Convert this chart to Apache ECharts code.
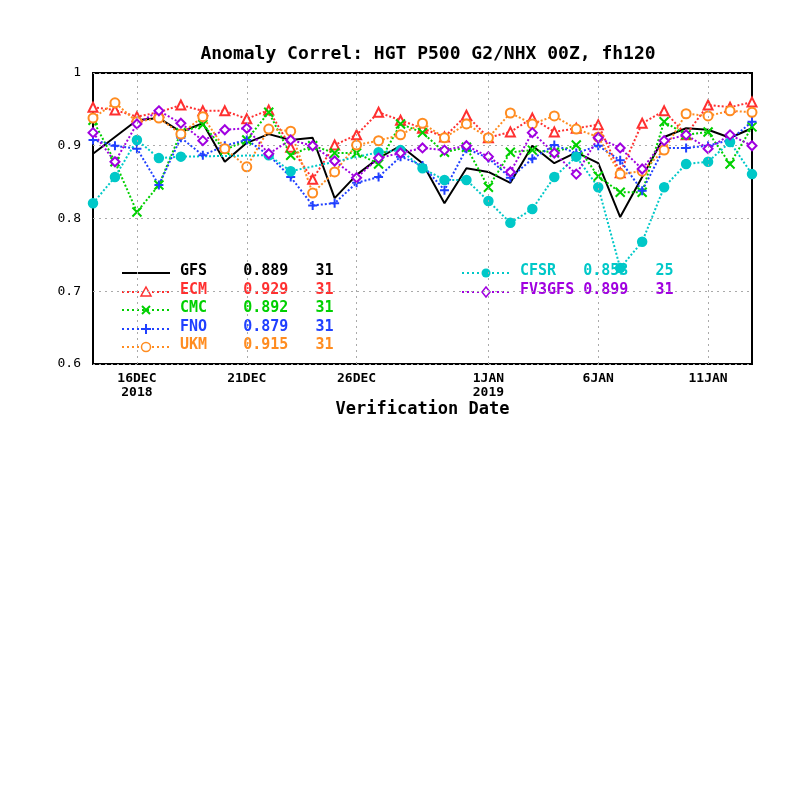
<!DOCTYPE html>
<html>
<head>
<meta charset="utf-8">
<script src="https://cdn.jsdelivr.net/npm/echarts@6/dist/echarts.min.js"></script>
<style>html,body{margin:0;background:#fff}#chart{width:800px;height:800px}</style>
</head>
<body>
<div id="chart"></div>
<script>
// day index 0 = 14 DEC 2018
const days = [0,1,2,3,4,5,6,7,8,9,10,11,12,13,14,15,16,17,18,19,20,21,22,23,24,25,26,27,28,29,30];
const tickDays = [2, 7, 12, 18, 23, 28];
const tickLabels = ['16DEC\n2018', '21DEC', '26DEC', '1JAN\n2019', '6JAN', '11JAN'];

const gfs = [.889,.912,.935,.938,.919,.931,.878,.904,.916,.908,.911,.828,.860,.883,.900,.876,.821,.869,.864,.849,.900,.876,.891,.876,.802,.857,.912,.924,.922,.911,.924];
const ecm = [.953,.949,.940,.946,.956,.948,.948,.937,.949,.898,.854,.901,.915,.946,.935,.924,.912,.942,.911,.919,.938,.919,.924,.929,.863,.931,.948,.915,.956,.953,.960];
const cmc = [.935,.878,.809,.846,.918,.929,.894,.908,.946,.887,.900,.890,.890,.875,.930,.918,.891,.898,.843,.891,.894,.891,.901,.858,.836,.836,.933,.915,.919,.875,.926];
const fno = [.908,.900,.896,.846,.911,.887,.900,.908,.887,.857,.818,.821,.849,.857,.885,.873,.839,.896,.883,.856,.882,.901,.890,.900,.880,.838,.897,.897,.900,.908,.933];
const ukm = [.938,.959,.933,.938,.916,.940,.896,.871,.923,.920,.835,.864,.901,.907,.915,.931,.911,.930,.911,.945,.930,.941,.923,.912,.861,.865,.894,.944,.941,.948,.946];
const cfsr = [.821,.857,.908,.883,.885,null,null,null,.887,.865,null,null,null,.891,.894,.869,.853,.853,.824,.794,.813,.857,.885,.843,.732,.768,.843,.875,.878,.905,.861];
const fv3 = [.918,.878,.930,.948,.931,.907,.922,.924,.889,.908,.900,.879,.856,.883,.890,.897,.894,.900,.885,.864,.918,.890,.861,.911,.897,.868,.907,.915,.896,.915,.900];

const models = [
  {name:'GFS', data:gfs, color:'#000000', sym:'none', type:'solid', score:'0.889', n:'31'},
  {name:'ECM', data:ecm, color:'#ff3030', sym:'emptyTriangle', type:'dotted', score:'0.929', n:'31'},
  {name:'CMC', data:cmc, color:'#00d000', sym:'path://M0,0L10,10M10,0L0,10', type:'dotted', score:'0.892', n:'31'},
  {name:'FNO', data:fno, color:'#2040ff', sym:'path://M5,0L5,10M0,5L10,5', type:'dotted', score:'0.879', n:'31'},
  {name:'UKM', data:ukm, color:'#ff8c20', sym:'emptyCircle', type:'dotted', score:'0.915', n:'31'},
  {name:'CFSR', data:cfsr, color:'#00c8c8', sym:'circle', type:'dotted', score:'0.853', n:'25'},
  {name:'FV3GFS', data:fv3, color:'#a000e0', sym:'emptyDiamond', type:'dotted', score:'0.899', n:'31'}
];

const font = 'DejaVu Sans Mono';
const series = models.map(function (m) {
  const isPath = m.sym.indexOf('path') === 0;
  return {
    name: m.name,
    type: 'line',
    data: m.data.map(function (v, i) { return [days[i], v]; }),
    connectNulls: true,
    symbol: m.sym,
    symbolSize: 9,
    showSymbol: m.sym !== 'none',
    lineStyle: {color: m.color, width: 2, type: m.type},
    itemStyle: isPath ? {color: 'none', borderColor: m.color, borderWidth: 2}
                      : {color: m.color, borderColor: m.color, borderWidth: 1.5},
    animation: false
  };
});
// vertical grid lines at labelled dates
series[0].markLine = {
  silent: true, symbol: 'none', label: {show: false},
  lineStyle: {color: '#aaaaaa', type: [2, 4], width: 1},
  data: tickDays.map(function (d) { return {xAxis: d}; })
};

// legend drawn as graphics
const graphics = [];
function seg(x1, y1, x2, y2, c) {
  graphics.push({type: 'line', shape: {x1: x1, y1: y1, x2: x2, y2: y2}, style: {stroke: c, lineWidth: 2}});
}
function legendRow(m, x, y) {
  graphics.push({type: 'line', shape: {x1: x, y1: y, x2: x + 48, y2: y},
    style: {stroke: m.color, lineWidth: 2, lineDash: m.type === 'solid' ? null : [2, 3]}});
  graphics.push({type: 'text', x: x + 58, y: y - 9,
    style: {text: m.name.padEnd(7) + m.score + '   ' + m.n, fill: m.color,
      font: 'bold 15px ' + font}});
}
legendRow(models[0], 122, 273);
legendRow(models[1], 122, 292);
legendRow(models[2], 122, 310);
legendRow(models[3], 122, 329);
legendRow(models[4], 122, 347);
legendRow(models[5], 462, 273);
legendRow(models[6], 462, 292);
// legend markers
const legendMarks = [
  {m: models[1], x: 146, y: 292}, {m: models[2], x: 146, y: 310}, {m: models[3], x: 146, y: 329},
  {m: models[4], x: 146, y: 347}, {m: models[5], x: 486, y: 273}, {m: models[6], x: 486, y: 292}
];
legendMarks.forEach(function (o) {
  const c = o.m.color, s = o.m.sym;
  if (s === 'emptyTriangle') graphics.push({type: 'polygon', shape: {points: [[o.x, o.y - 5], [o.x + 5, o.y + 4], [o.x - 5, o.y + 4]]}, style: {fill: '#fff', stroke: c, lineWidth: 1.5}});
  if (s === 'emptyCircle') graphics.push({type: 'circle', shape: {cx: o.x, cy: o.y, r: 4.5}, style: {fill: '#fff', stroke: c, lineWidth: 1.5}});
  if (s === 'circle') graphics.push({type: 'circle', shape: {cx: o.x, cy: o.y, r: 4.5}, style: {fill: c}});
  if (s === 'emptyDiamond') graphics.push({type: 'polygon', shape: {points: [[o.x, o.y - 5], [o.x + 4, o.y], [o.x, o.y + 5], [o.x - 4, o.y]]}, style: {fill: '#fff', stroke: c, lineWidth: 1.5}});
  if (s.indexOf('M0,0') > 0) { seg(o.x - 4, o.y - 4, o.x + 4, o.y + 4, c); seg(o.x + 4, o.y - 4, o.x - 4, o.y + 4, c); }
  if (s.indexOf('M5,0') > 0) { seg(o.x, o.y - 5, o.x, o.y + 5, c); seg(o.x - 5, o.y, o.x + 5, o.y, c); }
});

const chart = echarts.init(document.getElementById('chart'));
chart.setOption({
  backgroundColor: '#fff',
  animation: false,
  title: {text: 'Anomaly Correl: HGT P500 G2/NHX 00Z, fh120', left: 423, top: 40, textAlign: 'center',
    textStyle: {fontFamily: font, fontSize: 18, fontWeight: 'bold', color: '#000'}},
  grid: {left: 93, right: 48, top: 73, bottom: 436, show: true, borderColor: '#000', borderWidth: 2},
  xAxis: {
    type: 'value', min: 0, max: 30, interval: 1,
    name: 'Verification Date', nameLocation: 'middle', nameGap: 33,
    nameTextStyle: {fontFamily: font, fontSize: 17, fontWeight: 'bold', color: '#000'},
    axisLine: {show: false}, axisTick: {show: false}, splitLine: {show: false},
    axisLabel: {
      interval: 0, margin: 8, color: '#000', fontFamily: font, fontSize: 13, fontWeight: 'bold', lineHeight: 14,
      formatter: function (v) { const i = tickDays.indexOf(v); return i >= 0 ? tickLabels[i] : ''; }
    }
  },
  yAxis: {
    type: 'value', min: 0.6, max: 1, interval: 0.1,
    axisLine: {show: false}, axisTick: {show: false},
    splitLine: {lineStyle: {color: '#aaaaaa', type: [2, 4]}},
    axisLabel: {color: '#000', fontFamily: font, fontSize: 13, margin: 12,
      formatter: function (v) { return v === 1 ? '1' : v.toFixed(1); }}
  },
  graphic: graphics,
  series: series
});
</script>
</body>
</html>
